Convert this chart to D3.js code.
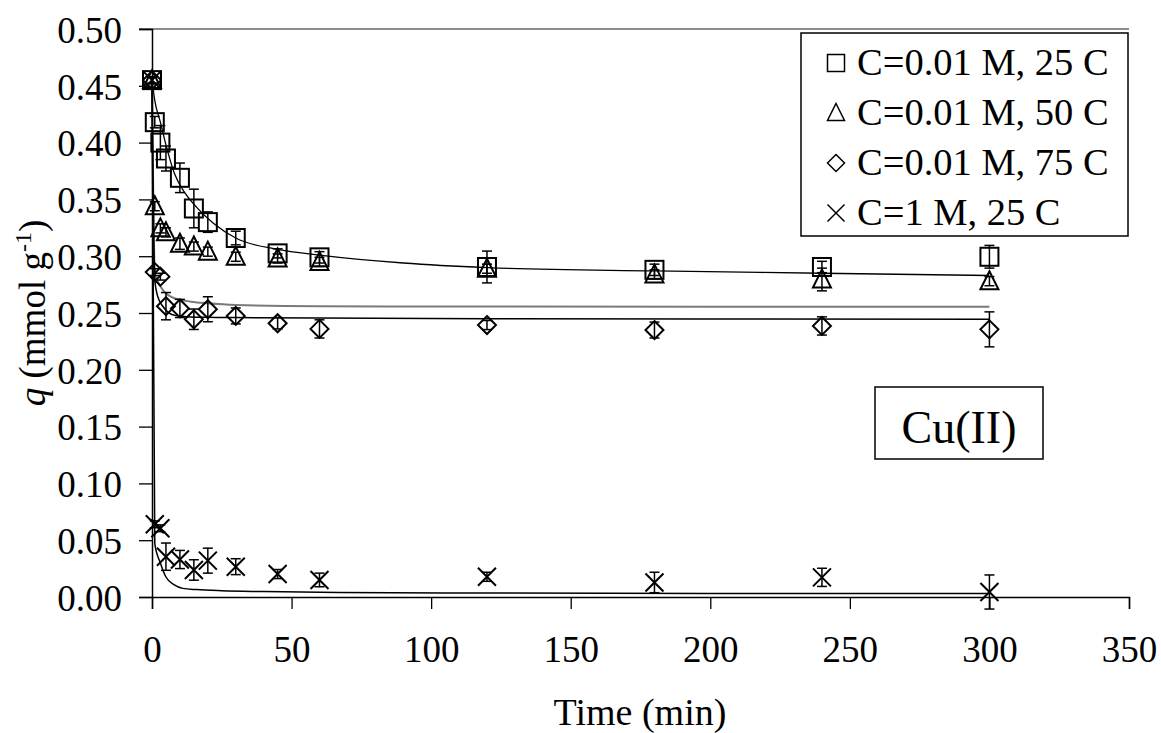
<!DOCTYPE html>
<html lang="en">
<head>
<meta charset="UTF-8">
<title>Cu(II) kinetics</title>
<script src="https://cdn.jsdelivr.net/npm/d3@7"></script>
<style>
  body { margin: 0; background: #fff; }
  svg { position: absolute; left: 0; top: 0; }
  text { font-family: "Liberation Serif", "Times New Roman", serif; fill: #000; }
</style>
</head>
<body>
<svg id="chart" width="1161" height="733"></svg>
<script>
// measured sampling times (min)
var times = [0, 1, 3, 5, 10, 15, 20, 30, 45, 60, 120, 180, 240, 300]

// C=0.01 M, 25 C
var q25  = [0.455, 0.418, 0.400, 0.386, 0.369, 0.342, 0.330, 0.316, 0.3025, 0.299, 0.2905, 0.288, 0.2905, 0.2995]
var err25 = [0.003, 0.005, 0.015, 0.011, 0.013, 0.017, 0.009, 0.006, 0.004, 0.005, 0.014, 0.005, 0.005, 0.010]
// C=0.01 M, 50 C
var q50  = [0.455, 0.344, 0.3245, 0.321, 0.311, 0.3085, 0.304, 0.2995, 0.298, 0.295, 0.289, 0.284, 0.2795, 0.278]
var err50 = [0.003, 0.004, 0.004, 0.004, 0.005, 0.004, 0.004, 0.004, 0.004, 0.004, 0.004, 0.004, 0.010, 0.004]
// C=0.01 M, 75 C
var q75  = [0.455, 0.286, 0.282, 0.256, 0.254, 0.2445, 0.2533, 0.2474, 0.241, 0.236, 0.2394, 0.235, 0.2386, 0.2356]
var err75 = [0.003, 0.003, 0.003, 0.012, 0.008, 0.009, 0.011, 0.007, 0.005, 0.008, 0.004, 0.007, 0.008, 0.0154]
// C=1 M, 25 C
var q1M  = [0.455, 0.064, 0.0605, 0.0355, 0.033, 0.0238, 0.032, 0.0267, 0.0202, 0.015, 0.0178, 0.0128, 0.0173, 0.0044]
var err1M = [0.003, 0.003, 0.003, 0.012, 0.008, 0.009, 0.011, 0.007, 0.004, 0.006, 0.004, 0.009, 0.008, 0.015]

// fitted model curves
var fitT25 = [0, 1, 3, 5, 8, 12, 16, 22, 30, 45, 60, 90, 120, 180, 240, 300]
var fitQ25 = [0.455, 0.437, 0.418, 0.398, 0.373, 0.355, 0.343, 0.329, 0.316, 0.306, 0.301, 0.294, 0.290, 0.287, 0.285, 0.283]
var fitT75 = [0, 1, 2, 4, 8, 14, 20, 30, 60, 120, 200, 300]
var fitQ75a = [0.455, 0.285, 0.278, 0.270, 0.263, 0.260, 0.2585, 0.257, 0.256, 0.2557, 0.2556, 0.2555]
var fitQ75b = [0.455, 0.279, 0.265, 0.2555, 0.248, 0.2465, 0.2462, 0.246, 0.2455, 0.245, 0.2447, 0.2444]
var fitT1M = [0, 1, 3, 5, 8, 11, 16, 25, 40, 67, 120, 200, 300]
var fitQ1M = [0.455, 0.047, 0.030, 0.0176, 0.0106, 0.0076, 0.0065, 0.0055, 0.0048, 0.004, 0.0035, 0.003, 0.003]

var xTicks = [0, 50, 100, 150, 200, 250, 300, 350]
var yTicks = [0, 0.05, 0.1, 0.15, 0.2, 0.25, 0.3, 0.35, 0.4, 0.45, 0.5]
var legendLabels = ["C=0.01 M, 25 C", "C=0.01 M, 50 C", "C=0.01 M, 75 C", "C=1 M, 25 C"]

var svg = d3.select("#chart")
var x = d3.scaleLinear().domain([0, 350]).range([152, 1129])
var y = d3.scaleLinear().domain([0, 0.5]).range([597, 29])

// grey top border of plot area
svg.append("line")
    .attr("x1", 139).attr("x2", x(350))
    .attr("y1", y(0.5)).attr("y2", y(0.5))
    .attr("stroke", "#8c8c8c").attr("stroke-width", 2)

// axes
var xAxis = svg.append("g").attr("transform", "translate(0," + y(0) + ")")
    .call(d3.axisBottom(x).tickValues(xTicks).tickSize(12).tickPadding(16).tickFormat(d3.format("d")))
var yAxis = svg.append("g").attr("transform", "translate(" + x(0) + ",0)")
    .call(d3.axisLeft(y).tickValues(yTicks).tickSize(13).tickPadding(17).tickFormat(d3.format(".2f")))
;[xAxis, yAxis].forEach(function(a) {
    a.attr("font-family", null)
    a.select(".domain").attr("stroke", "#000").attr("stroke-width", 1.5)
    a.selectAll(".tick line").attr("stroke", "#000").attr("stroke-width", 1.3)
    a.selectAll("text").style("font-family", "'Liberation Serif', 'Times New Roman', serif")
        .style("font-size", "37px").attr("fill", "#000")
})
xAxis.selectAll("text").attr("dy", "1.0em")
yAxis.selectAll("text").attr("dy", "0.36em")

// axis titles
svg.append("text").attr("x", 640).attr("y", 725).attr("text-anchor", "middle")
    .style("font-size", "38px").text("Time (min)")
var yl = svg.append("text").attr("transform", "translate(45,313) rotate(-90)")
    .attr("text-anchor", "middle").style("font-size", "37px")
yl.append("tspan").style("font-style", "italic").text("q")
yl.append("tspan").text(" (mmol g")
yl.append("tspan").attr("dy", -14).style("font-size", "24px").text("-1")
yl.append("tspan").attr("dy", 14).text(")")

// fitted curves
var line = d3.line().x(function(d) { return x(d[0]) }).y(function(d) { return y(d[1]) })
    .curve(d3.curveMonotoneX)
function drawFit(ts, qs, color, w) {
    svg.append("path").datum(d3.zip(ts, qs)).attr("d", line)
        .attr("fill", "none").attr("stroke", color).attr("stroke-width", w)
}
drawFit(fitT25, fitQ25, "#000", 1.3)
drawFit(fitT75, fitQ75a, "#7a7a7a", 2)
drawFit(fitT75, fitQ75b, "#000", 1.5)
drawFit(fitT1M, fitQ1M, "#000", 1.5)

// marker shapes
function marker(g, kind, s) {
    var h = s / 2
    if (kind == "square") {
        g.append("rect").attr("x", -h).attr("y", -h).attr("width", s).attr("height", s)
    } else if (kind == "triangle") {
        g.append("path").attr("d", "M0," + (-h - 1) + "L" + h + "," + (h - 1) + "L" + (-h) + "," + (h - 1) + "Z")
    } else if (kind == "diamond") {
        g.append("path").attr("d", "M0," + (-h) + "L" + h + ",0L0," + h + "L" + (-h) + ",0Z")
    } else {
        g.append("path").attr("d", "M" + (-h) + "," + (-h) + "L" + h + "," + h + "M" + h + "," + (-h) + "L" + (-h) + "," + h)
    }
    g.selectAll("*").attr("fill", "none").attr("stroke", "#000").attr("stroke-width", 2)
}

var series = [
    { kind: "square", q: q25, e: err25 },
    { kind: "triangle", q: q50, e: err50 },
    { kind: "diamond", q: q75, e: err75 },
    { kind: "cross", q: q1M, e: err1M }
]

series.forEach(function(s) {
    var g = svg.append("g")
    var pts = d3.zip(times, s.q, s.e)
    // error bars
    pts.forEach(function(p) {
        var cx = x(p[0]), y1 = y(p[1] + p[2]), y2 = y(p[1] - p[2])
        var eb = g.append("g").attr("stroke", "#000").attr("stroke-width", 1.5)
        eb.append("line").attr("x1", cx).attr("x2", cx).attr("y1", y1).attr("y2", y2)
        eb.append("line").attr("x1", cx - 5).attr("x2", cx + 5).attr("y1", y1).attr("y2", y1)
        eb.append("line").attr("x1", cx - 5).attr("x2", cx + 5).attr("y1", y2).attr("y2", y2)
    })
    g.selectAll("g.mk").data(pts).enter().append("g").attr("class", "mk")
        .attr("transform", function(p) { return "translate(" + x(p[0]) + "," + y(p[1]) + ")" })
        .each(function() { marker(d3.select(this), s.kind, 18) })
})

// legend
var lg = svg.append("g")
lg.append("rect").attr("x", 801).attr("y", 33).attr("width", 327).attr("height", 203)
    .attr("fill", "#fff").attr("stroke", "#000").attr("stroke-width", 1.5)
legendLabels.forEach(function(lab, i) {
    var cy = 63 + i * 50
    var m = lg.append("g").attr("transform", "translate(836," + cy + ")")
    marker(m, series[i].kind, 17)
    m.selectAll("*").attr("stroke-width", 1.5)
    lg.append("text").attr("x", 857).attr("y", cy + 12).style("font-size", "38.5px").text(lab)
})

// Cu(II) label box
svg.append("rect").attr("x", 875).attr("y", 387).attr("width", 168).attr("height", 72)
    .attr("fill", "#fff").attr("stroke", "#000").attr("stroke-width", 1.5)
svg.append("text").attr("x", 959).attr("y", 443).attr("text-anchor", "middle")
    .style("font-size", "46px").text("Cu(II)")
</script>
</body>
</html>
